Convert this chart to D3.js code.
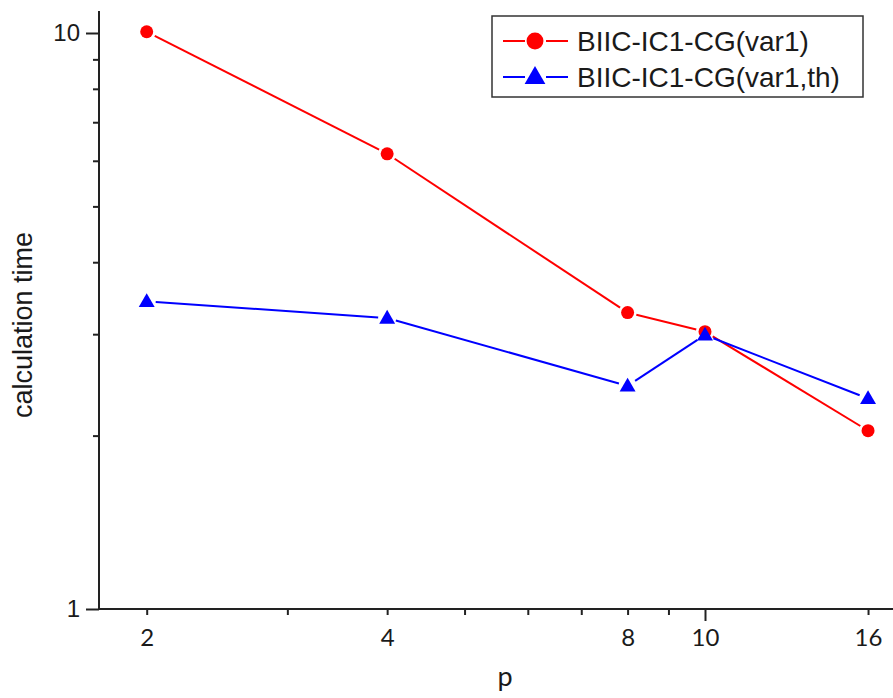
<!DOCTYPE html>
<html>
<head>
<meta charset="utf-8">
<script src="https://cdn.jsdelivr.net/npm/d3@7"></script>
<style>
  html, body { margin: 0; padding: 0; background: #fff; }
  svg { display: block; }
</style>
</head>
<body>
<svg id="chart" width="893" height="698"></svg>
<script>
// ---- data ----
const pValues = [2, 4, 8, 10, 16];
const seriesNames = ["BIIC-IC1-CG(var1)", "BIIC-IC1-CG(var1,th)"];
const var1Times = [10.05, 6.17, 3.27, 3.03, 2.04];
const var1thTimes = [3.42, 3.20, 2.44, 2.99, 2.32];
const xTickLabels = [2, 4, 8, 10, 16];
const xMinorTicks = [3, 5, 6, 7, 9];
const yTickLabels = [1, 10];
const yMinorTicks = [2, 3, 4, 5, 6, 7, 8, 9];
const xTitle = "p";
const yTitle = "calculation time";

const svg = d3.select("#chart");
const axisColor = "#222";
const textColor = "#1a1a1a";

// scales (log-log)
const x = d3.scaleLog().domain([2, 10]).range([146.7, 705]);
const xd0 = x.invert(99), xd1 = x.invert(900);
x.domain([xd0, xd1]).range([99, 900]);

const y = d3.scaleLog().domain([1, 10]).range([609, 33]);
const yTop = y.invert(11);
y.domain([1, yTop]).range([609, 11]);

// ---- x axis ----
const gx = svg.append("g").attr("transform", "translate(0,609)");
gx.append("line").attr("x1", 99).attr("x2", 900).attr("y1", 0).attr("y2", 0)
  .attr("stroke", axisColor).attr("stroke-width", 2);
const xMinorAxis = d3.axisBottom(x).tickValues(xMinorTicks).tickSize(6).tickFormat("");
const gxm = svg.append("g").attr("transform", "translate(0,609)").call(xMinorAxis);
gxm.select(".domain").remove();
const xAxis = d3.axisBottom(x).tickValues(xTickLabels).tickFormat(d3.format("d"))
  .tickSize(6).tickSizeOuter(0);
const gxa = svg.append("g").attr("transform", "translate(0,609)").call(xAxis);
gxa.select(".domain").remove();
gxa.selectAll(".tick").filter(d => d === 10).select("line").attr("y2", 12);
gxa.selectAll("text").attr("y", 37).attr("dy", null)
  .attr("font-family", "Lato, 'Open Sans', sans-serif").attr("font-size", 24).attr("fill", textColor);
[gxm, gxa].forEach(g => g.selectAll("line").attr("stroke", axisColor).attr("stroke-width", 2));

// ---- y axis ----
svg.append("line").attr("x1", 99).attr("x2", 99).attr("y1", 610).attr("y2", y.range()[1])
  .attr("stroke", axisColor).attr("stroke-width", 2);
const yMinorAxis = d3.axisLeft(y).tickValues(yMinorTicks).tickSize(6).tickFormat("");
const gym = svg.append("g").attr("transform", "translate(99,0)").call(yMinorAxis);
gym.select(".domain").remove();
const yAxis = d3.axisLeft(y).tickValues(yTickLabels).tickFormat(d3.format("d"))
  .tickSize(13).tickPadding(6);
const gya = svg.append("g").attr("transform", "translate(99,0)").call(yAxis);
gya.select(".domain").remove();
gya.selectAll("text").attr("font-family", "'Liberation Sans', Arial, sans-serif")
  .attr("font-size", 24).attr("fill", textColor);
[gym, gya].forEach(g => g.selectAll("line").attr("stroke", axisColor).attr("stroke-width", 2));

// axis titles
svg.append("text").attr("x", 505).attr("y", 686).attr("text-anchor", "middle")
  .attr("font-family", "Lato, 'Open Sans', sans-serif").attr("font-size", 27)
  .attr("fill", textColor).text(xTitle);
svg.append("text").attr("transform", "translate(32,325) rotate(-90)")
  .attr("text-anchor", "middle")
  .attr("font-family", "'Liberation Sans', Arial, sans-serif").attr("font-size", 27)
  .attr("fill", textColor).text(yTitle);

// ---- series ----
const series = [
  { name: seriesNames[0], values: var1Times, color: "#ff0000", shape: "circle" },
  { name: seriesNames[1], values: var1thTimes, color: "#0000ff", shape: "triangle" }
];
const gap = 9;

function drawMarker(g, shape, cx, cy, color, scale) {
  if (shape === "circle") {
    g.append("circle").attr("cx", cx).attr("cy", cy).attr("r", 6.5 * scale).attr("fill", color);
  } else {
    const tri = d3.symbol().type(d3.symbolTriangle).size(110 * scale * scale);
    g.append("path").attr("d", tri()).attr("transform", `translate(${cx},${cy + 1})`)
      .attr("fill", color);
  }
}

series.forEach(s => {
  const g = svg.append("g");
  const pts = pValues.map((p, i) => [x(p), y(s.values[i])]);
  for (let i = 0; i < pts.length - 1; i++) {
    const [x1, y1] = pts[i], [x2, y2] = pts[i + 1];
    const dx = x2 - x1, dy = y2 - y1, L = Math.hypot(dx, dy);
    const ux = dx / L, uy = dy / L;
    g.append("line")
      .attr("x1", x1 + ux * gap).attr("y1", y1 + uy * gap)
      .attr("x2", x2 - ux * gap).attr("y2", y2 - uy * gap)
      .attr("stroke", s.color).attr("stroke-width", 2);
  }
  pts.forEach(([cx, cy]) => drawMarker(g, s.shape, cx, cy, s.color, 1));
});

// ---- legend ----
const lg = svg.append("g");
lg.append("rect").attr("x", 492).attr("y", 16).attr("width", 371).attr("height", 81)
  .attr("fill", "#fff").attr("stroke", "#333").attr("stroke-width", 1.5);
series.forEach((s, i) => {
  const cy = 41 + i * 36;
  lg.append("line").attr("x1", 503).attr("x2", 525).attr("y1", cy).attr("y2", cy)
    .attr("stroke", s.color).attr("stroke-width", 2);
  lg.append("line").attr("x1", 546).attr("x2", 568).attr("y1", cy).attr("y2", cy)
    .attr("stroke", s.color).attr("stroke-width", 2);
  drawMarker(lg, s.shape, 535, cy, s.color, 1.3);
  lg.append("text").attr("x", 577).attr("y", cy + 10)
    .attr("font-family", "'Liberation Sans', Arial, sans-serif").attr("font-size", 28)
    .attr("fill", textColor).text(s.name);
});
</script>
</body>
</html>
